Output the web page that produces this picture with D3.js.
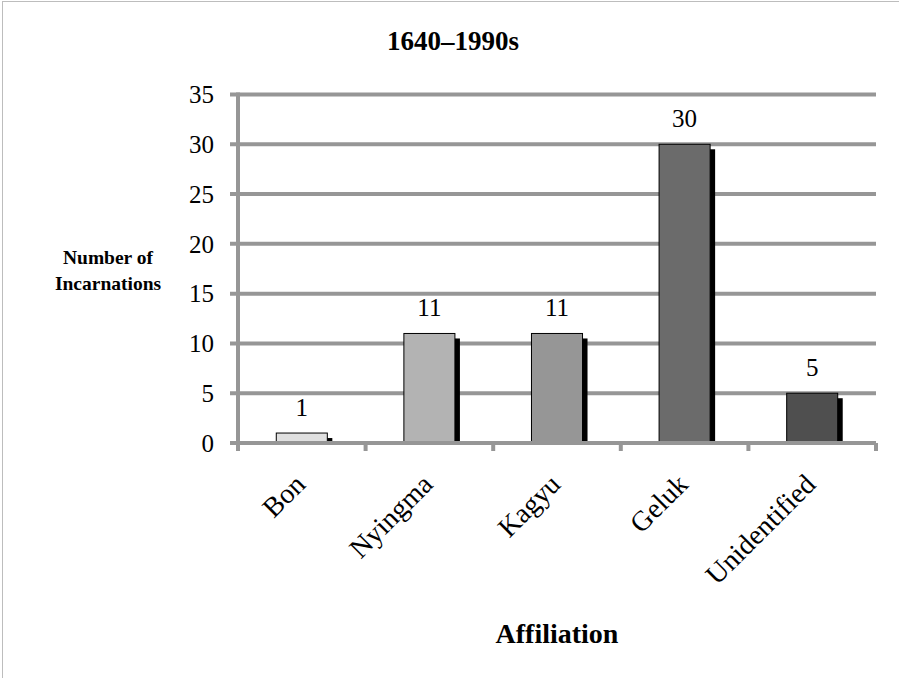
<!DOCTYPE html>
<html>
<head>
<meta charset="utf-8">
<script src="https://cdn.jsdelivr.net/npm/d3@7"></script>
<style>
  html, body { margin: 0; padding: 0; background: #fff; }
  svg { display: block; }
  text { font-family: "Liberation Serif", "Times New Roman", serif; fill: #000; }
</style>
</head>
<body>
<svg id="chart" width="899" height="678"></svg>
<script>
// Incarnations by affiliation, 1640–1990s
const categories = ["Bon", "Nyingma", "Kagyu", "Geluk", "Unidentified"];
const counts = [1, 11, 11, 30, 5];
const barColors = ["#e0e0e0", "#b3b3b3", "#969696", "#6b6b6b", "#4f4f4f"];
const yTicks = [0, 5, 10, 15, 20, 25, 30, 35];

const svg = d3.select("#chart");
const W = 899, H = 678;
const plotLeft = 238, plotRight = 876, plotTop = 94.5, plotBottom = 443;
const grid = "#969696";

// outer chart frame
svg.append("rect")
  .attr("x", 2.5).attr("y", 1.5)
  .attr("width", W + 10).attr("height", H + 10)
  .attr("fill", "#fff").attr("stroke", "#bdbdbd").attr("stroke-width", 1);

const x = d3.scaleBand().domain(categories).range([plotLeft, plotRight]).paddingInner(0).paddingOuter(0);
const y = d3.scaleLinear().domain([0, 35]).range([plotBottom, plotTop]);

// horizontal gridlines with left tick stubs
svg.append("g").selectAll("line").data(yTicks.filter(d => d > 0)).join("line")
  .attr("x1", plotLeft - 8).attr("x2", plotRight)
  .attr("y1", d => y(d)).attr("y2", d => y(d))
  .attr("stroke", grid).attr("stroke-width", 4);

// y tick labels
svg.append("g").selectAll("text").data(yTicks).join("text")
  .attr("x", 214).attr("y", d => y(d))
  .attr("dy", "0.35em")
  .attr("text-anchor", "end")
  .attr("font-size", 25)
  .text(d => d);

const bw = x.bandwidth() * 0.4;
const off = 5;

// bar shadows
svg.append("g").selectAll("rect").data(counts).join("rect")
  .attr("x", (d, i) => x(categories[i]) + (x.bandwidth() - bw) / 2 + off)
  .attr("y", d => y(d) + off)
  .attr("width", bw)
  .attr("height", d => Math.max(0, y(0) - y(d) - off))
  .attr("fill", "#000");

// bars
svg.append("g").selectAll("rect").data(counts).join("rect")
  .attr("x", (d, i) => x(categories[i]) + (x.bandwidth() - bw) / 2)
  .attr("y", d => y(d))
  .attr("width", bw)
  .attr("height", d => y(0) - y(d))
  .attr("fill", (d, i) => barColors[i])
  .attr("stroke", "#000").attr("stroke-width", 1);

// x axis line and category ticks
svg.append("line")
  .attr("x1", plotLeft - 8).attr("x2", plotRight)
  .attr("y1", y(0)).attr("y2", y(0))
  .attr("stroke", grid).attr("stroke-width", 4);
const bounds = categories.map(c => x(c)).concat([plotRight]);
svg.append("g").selectAll("line").data(bounds).join("line")
  .attr("x1", d => d).attr("x2", d => d)
  .attr("y1", y(0)).attr("y2", y(0) + 8)
  .attr("stroke", grid).attr("stroke-width", 4);

// y axis line
svg.append("line")
  .attr("x1", plotLeft).attr("x2", plotLeft)
  .attr("y1", plotTop - 2).attr("y2", y(0) + 8)
  .attr("stroke", grid).attr("stroke-width", 4);

// value labels
svg.append("g").selectAll("text").data(counts).join("text")
  .attr("x", (d, i) => x(categories[i]) + x.bandwidth() / 2)
  .attr("y", d => y(d) - 17)
  .attr("text-anchor", "middle")
  .attr("font-size", 25)
  .text(d => d);

// rotated category labels
svg.append("g").selectAll("text").data(categories).join("text")
  .attr("transform", d => `translate(${x(d) + x.bandwidth() / 2 + 5},${y(0) + 43}) rotate(-45)`)
  .attr("text-anchor", "end")
  .attr("font-size", 28)
  .text(d => d);

// titles
svg.append("text")
  .attr("x", 453).attr("y", 50)
  .attr("text-anchor", "middle")
  .attr("font-size", 27).attr("font-weight", "bold")
  .text("1640–1990s");

svg.append("text")
  .attr("x", 557).attr("y", 643)
  .attr("text-anchor", "middle")
  .attr("font-size", 28).attr("font-weight", "bold")
  .text("Affiliation");

const yt = svg.append("text")
  .attr("text-anchor", "middle")
  .attr("font-size", 19.5).attr("font-weight", "bold");
yt.append("tspan").attr("x", 108).attr("y", 264).text("Number of");
yt.append("tspan").attr("x", 108).attr("y", 290).text("Incarnations");
</script>
</body>
</html>
